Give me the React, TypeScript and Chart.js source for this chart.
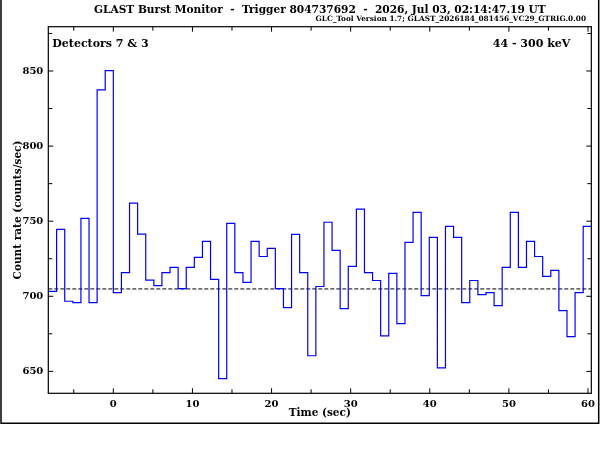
import React, { useEffect, useRef } from "react";
import { Chart, registerables } from "chart.js";

Chart.register(...registerables);

// GBM light curve, 1.024 s bins, detectors 7 & 3, 44-300 keV
const BIN_STARTS = [
  -8.192, -7.168, -6.144, -5.12, -4.096, -3.072, -2.048, -1.024,
  0, 1.024, 2.048, 3.072, 4.096, 5.12, 6.144, 7.168, 8.192, 9.216,
  10.24, 11.264, 12.288, 13.312, 14.336, 15.36, 16.384, 17.408, 18.432, 19.456,
  20.48, 21.504, 22.528, 23.552, 24.576, 25.6, 26.624, 27.648, 28.672, 29.696,
  30.72, 31.744, 32.768, 33.792, 34.816, 35.84, 36.864, 37.888, 38.912, 39.936,
  40.96, 41.984, 43.008, 44.032, 45.056, 46.08, 47.104, 48.128, 49.152, 50.176,
  51.2, 52.224, 53.248, 54.272, 55.296, 56.32, 57.344, 58.368, 59.392,
];
const BIN_END = 60.416;

const COUNT_RATES = [
  703.3, 744.6, 696.7, 695.8, 751.9, 695.8, 837.5, 850.2,
  702.5, 715.8, 762.0, 741.4, 710.7, 707.1, 715.8, 719.2, 705.1, 719.2,
  725.9, 736.6, 711.2, 645.2, 748.6, 715.8, 709.2, 736.6, 726.5, 731.9,
  705.1, 692.4, 741.2, 715.8, 660.4, 706.5, 749.3, 730.5, 691.8, 719.9,
  758.0, 715.8, 710.5, 673.7, 715.2, 681.8, 735.9, 755.9, 700.5, 739.2,
  652.3, 746.6, 739.2, 695.8, 710.5, 701.1, 702.5, 693.8, 719.2, 755.9,
  719.2, 736.6, 726.5, 713.2, 717.2, 690.4, 673.1, 702.5, 746.6,
];
const BACKGROUND_RATE = 704.9;

const X_MIN = -8.22;
const X_MAX = 60.42;
const Y_MIN = 635.4;
const Y_MAX = 879.5;

const X_TICKS = [0, 10, 20, 30, 40, 50, 60];
const X_MINOR_TICKS = [-5, 5, 15, 25, 35, 45, 55];
const Y_TICKS = [650, 700, 750, 800, 850];
const Y_MINOR_TICKS = [675, 725, 775, 825, 875];

const TITLE = "GLAST Burst Monitor  -  Trigger 804737692  -  2026, Jul 03, 02:14:47.19 UT";
const SUBTITLE = "GLC_Tool Version 1.7; GLAST_2026184_081456_VC29_GTRIG.0.00";
const DETECTOR_LABEL = "Detectors 7 & 3";
const ENERGY_LABEL = "44 - 300 keV";

const FONT = "'DejaVu Serif', serif";

const framePlugin = {
  id: "gbmFrame",
  afterDraw: (chart: any) => {
    const { ctx, chartArea, scales } = chart;
    const { left, right, top, bottom } = chartArea;
    const xs = scales.x;
    const ys = scales.y;

    ctx.save();
    ctx.strokeStyle = "#000";
    ctx.lineWidth = 1.2;
    ctx.strokeRect(left, top, right - left, bottom - top);

    // inward ticks on all four sides
    const tick = (x1: number, y1: number, x2: number, y2: number) => {
      ctx.beginPath();
      ctx.moveTo(x1, y1);
      ctx.lineTo(x2, y2);
      ctx.stroke();
    };
    ctx.lineWidth = 1;
    X_TICKS.forEach((v) => {
      const px = xs.getPixelForValue(v);
      tick(px, bottom, px, bottom - 5);
      tick(px, top, px, top + 5);
    });
    X_MINOR_TICKS.forEach((v) => {
      const px = xs.getPixelForValue(v);
      tick(px, bottom, px, bottom - 4);
      tick(px, top, px, top + 4);
    });
    Y_TICKS.forEach((v) => {
      const py = ys.getPixelForValue(v);
      tick(left, py, left + 5, py);
      tick(right, py, right - 5, py);
    });
    Y_MINOR_TICKS.forEach((v) => {
      const py = ys.getPixelForValue(v);
      tick(left, py, left + 4, py);
      tick(right, py, right - 4, py);
    });

    // outer frame
    ctx.lineWidth = 1.5;
    ctx.beginPath();
    ctx.moveTo(1, 0);
    ctx.lineTo(1, 423.3);
    ctx.lineTo(598.7, 423.3);
    ctx.lineTo(598.7, 0);
    ctx.stroke();

    // header texts
    ctx.fillStyle = "#000";
    ctx.textBaseline = "middle";
    ctx.font = `bold 10.6px ${FONT}`;
    ctx.textAlign = "center";
    ctx.fillText(TITLE, (left + right) / 2, 10.5);
    ctx.font = `bold 7.35px ${FONT}`;
    ctx.textAlign = "right";
    ctx.fillText(SUBTITLE, 586, 19.5);

    ctx.font = `bold 11px ${FONT}`;
    ctx.textAlign = "left";
    ctx.fillText(DETECTOR_LABEL, left + 4, top + 17.5);
    ctx.textAlign = "right";
    ctx.fillText(ENERGY_LABEL, right - 21, top + 17.5);
    ctx.restore();
  },
};

const App: React.FC = () => {
  const canvasRef = useRef<HTMLCanvasElement | null>(null);

  useEffect(() => {
    document.body.style.margin = "0";
    if (!canvasRef.current) return;
    const ctx = canvasRef.current.getContext("2d");
    if (!ctx) return;

    const histogram = BIN_STARTS.map((x, i) => ({ x, y: COUNT_RATES[i] }));
    histogram.push({ x: BIN_END, y: COUNT_RATES[COUNT_RATES.length - 1] });

    const tickFont = { family: FONT, size: 10, weight: "bold" as const };

    const chart = new Chart(ctx, {
      type: "line",
      data: {
        datasets: [
          {
            label: "Count rate",
            data: histogram,
            borderColor: "#0000ff",
            borderWidth: 1.2,
            pointRadius: 0,
            stepped: "before",
            fill: false,
          },
          {
            label: "Background",
            data: [
              { x: X_MIN, y: BACKGROUND_RATE },
              { x: X_MAX, y: BACKGROUND_RATE },
            ],
            borderColor: "#000",
            borderWidth: 1,
            borderDash: [4, 2],
            pointRadius: 0,
            fill: false,
          },
        ],
      },
      options: {
        responsive: false,
        animation: false,
        layout: { padding: { top: 26.7, right: 7.3, left: 0, bottom: 0 } },
        plugins: {
          legend: { display: false },
          tooltip: { enabled: false },
          title: { display: false },
        },
        scales: {
          x: {
            type: "linear",
            min: X_MIN,
            max: X_MAX,
            grid: { display: false, drawTicks: false },
            border: { display: false },
            afterBuildTicks: (s: any) => {
              s.ticks = X_TICKS.map((value) => ({ value }));
            },
            afterFit: (s: any) => {
              s.height = 56.7;
            },
            ticks: { color: "#000", font: tickFont, padding: 5, autoSkip: false, maxRotation: 0 },
            title: {
              display: true,
              text: "Time (sec)",
              color: "#000",
              font: { family: FONT, size: 10.5, weight: "bold" },
              padding: { top: 0, bottom: 30.5 },
            },
          },
          y: {
            type: "linear",
            min: Y_MIN,
            max: Y_MAX,
            grid: { display: false, drawTicks: false },
            border: { display: false },
            afterBuildTicks: (s: any) => {
              s.ticks = Y_TICKS.map((value) => ({ value }));
            },
            afterFit: (s: any) => {
              s.width = 48.3;
            },
            ticks: { color: "#000", font: tickFont, padding: 5, autoSkip: false },
            title: {
              display: true,
              text: "Count rate (counts/sec)",
              color: "#000",
              font: { family: FONT, size: 10.5, weight: "bold" },
              padding: { top: 11.7, bottom: 0 },
            },
          },
        },
      },
      plugins: [framePlugin],
    });

    return () => {
      chart.destroy();
    };
  }, []);

  return (
    <div style={{ width: 600, height: 450, background: "#fff" }}>
      <canvas ref={canvasRef} width={600} height={450}></canvas>
    </div>
  );
};

export default App;
